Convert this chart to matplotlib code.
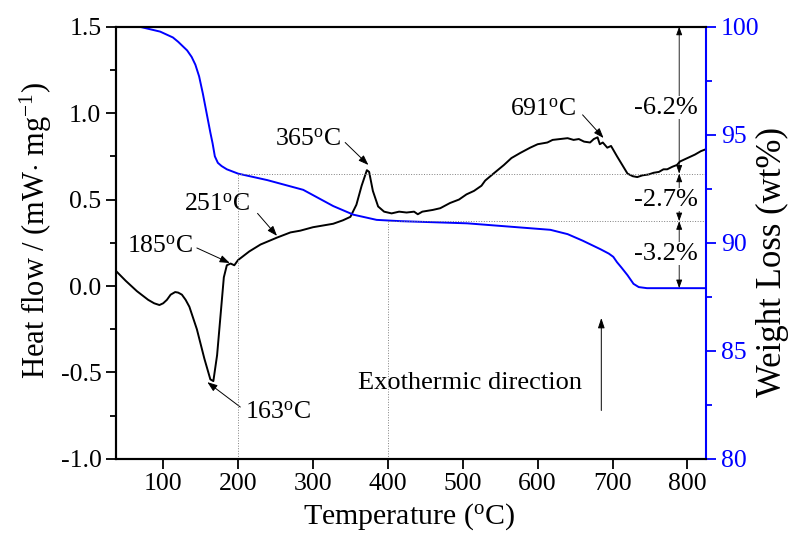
import matplotlib
matplotlib.use('Agg')
import matplotlib.pyplot as plt
from matplotlib.ticker import MultipleLocator

plt.rcParams['font.family'] = ['Liberation Serif', 'DejaVu Serif']
plt.rcParams['mathtext.fontset'] = 'custom'
plt.rcParams['mathtext.rm'] = 'Liberation Serif'
plt.rcParams['mathtext.it'] = 'Liberation Serif:italic'

# DSC heat flow (mW/mg)
dsc_t = [37, 50, 65, 80, 88, 95, 100, 105, 110, 116, 120, 125, 130, 135, 145, 155, 163,
         167, 172, 177, 181, 185, 190, 195, 200, 215, 230, 252, 270, 283, 300, 327, 340,
         350, 358, 365, 372, 375, 380, 387, 395, 405, 415, 425, 435, 440, 446, 460, 470,
         483, 495, 505, 510, 515, 525, 530, 541, 555, 565, 577, 590, 600, 613, 620, 630,
         640, 648, 655, 662, 670, 675, 680, 683, 687, 693, 698, 706, 713, 720, 727, 733,
         740, 748, 755, 762, 768, 773, 780, 786, 790, 800, 810, 818, 824]
dsc_v = [0.087, 0.03, -0.03, -0.08, -0.10, -0.11, -0.10, -0.08, -0.05, -0.035, -0.038,
         -0.05, -0.08, -0.12, -0.25, -0.42, -0.54, -0.55, -0.40, -0.15, 0.05, 0.12, 0.13,
         0.12, 0.15, 0.20, 0.24, 0.28, 0.31, 0.32, 0.34, 0.36, 0.38, 0.40, 0.47, 0.58,
         0.67, 0.66, 0.55, 0.46, 0.43, 0.42, 0.43, 0.425, 0.43, 0.415, 0.43, 0.44, 0.45,
         0.48, 0.50, 0.53, 0.54, 0.55, 0.58, 0.61, 0.65, 0.70, 0.74, 0.77, 0.80, 0.82,
         0.83, 0.845, 0.85, 0.855, 0.845, 0.85, 0.835, 0.83, 0.85, 0.86, 0.82, 0.83,
         0.80, 0.81, 0.75, 0.70, 0.65, 0.635, 0.63, 0.64, 0.645, 0.655, 0.66, 0.675,
         0.675, 0.69, 0.70, 0.72, 0.74, 0.76, 0.78, 0.79]

# TG weight (wt%)
tg_t = [37, 50, 68, 96, 113, 120, 132, 138, 143, 148, 153, 158, 163, 166, 169, 171, 173,
        178, 185, 200, 239, 287, 327, 354, 385, 417, 506, 617, 640, 660, 684, 695, 701,
        706, 712, 720, 724, 728, 735, 746, 824]
tg_v = [100.4, 100.25, 100.0, 99.77, 99.5, 99.3, 98.9, 98.6, 98.24, 97.7, 96.9, 96.0,
        95.1, 94.6, 94.0, 93.85, 93.7, 93.55, 93.4, 93.2, 92.9, 92.45, 91.7, 91.3, 91.06,
        91.0, 90.9, 90.6, 90.4, 90.1, 89.7, 89.5, 89.35, 89.1, 88.85, 88.5, 88.3, 88.1,
        87.95, 87.9, 87.9]

# guide levels
guide_t = [200, 400]
guide_w = [93.2, 91.0]
loss_levels = [100.0, 93.2, 91.0, 87.9]
loss_labels = ['-6.2%', '-2.7%', '-3.2%']
loss_label_y = [96.25, 92.0, 89.5]

fig = plt.figure(figsize=(7.89, 5.33), dpi=100)
ax = fig.add_axes([0.147, 0.139, 0.748, 0.811])
ax2 = ax.twinx()

ax.plot(dsc_t, dsc_v, color='black', lw=1.4)
ax2.plot(tg_t, tg_v, color='blue', lw=1.4)

ax.set_xlim(37, 825)
ax.set_ylim(-1.0, 1.5)
ax2.set_ylim(80, 100)

# dotted guides
for t, w in zip(guide_t, guide_w):
    ax2.plot([t, t], [80, w], color='grey', lw=0.7, ls=':')
    ax2.plot([t, 825], [w, w], color='grey', lw=0.7, ls=':')

# weight-loss arrows
for lo, hi in zip(loss_levels[1:], loss_levels[:-1]):
    ax2.annotate('', xy=(789, hi), xytext=(789, lo),
                 arrowprops=dict(arrowstyle='<|-|>,head_length=0.5,head_width=0.18',
                                 color='black', lw=0.6, shrinkA=0, shrinkB=0))
for lab, y in zip(loss_labels, loss_label_y):
    ax2.text(771, y, lab, fontsize=19, ha='center', va='center',
             bbox=dict(facecolor='white', edgecolor='none', pad=0.3))

arrow = dict(arrowstyle='-|>,head_length=0.6,head_width=0.22', color='black', lw=0.7,
             shrinkA=0, shrinkB=0)
ann = [('365$^{\\mathrm{o}}$C', (294, 0.845), (343, 0.83), (374, 0.70)),
       ('251$^{\\mathrm{o}}$C', (172, 0.47), (226, 0.42), (252, 0.29)),
       ('185$^{\\mathrm{o}}$C', (96, 0.226), (145, 0.22), (189, 0.133)),
       ('163$^{\\mathrm{o}}$C', (254, -0.735), (203, -0.70), (159, -0.556)),
       ('691$^{\\mathrm{o}}$C', (607, 1.02), (660, 0.99), (688, 0.856))]
for lab, pos, tail, head in ann:
    ax.text(pos[0], pos[1], lab, fontsize=18.5, ha='center', va='center')
    ax.annotate('', xy=head, xytext=tail, arrowprops=arrow)

ax.text(510, -0.56, 'Exothermic direction', fontsize=19, ha='center', va='center')
ax.annotate('', xy=(685, -0.185), xytext=(685, -0.72),
            arrowprops=dict(arrowstyle='-|>,head_length=0.6,head_width=0.2',
                            color='black', lw=0.7, shrinkA=0, shrinkB=0))

ax.xaxis.set_major_locator(MultipleLocator(100))
ax.yaxis.set_minor_locator(MultipleLocator(0.25))
ax2.yaxis.set_major_locator(MultipleLocator(5))
ax2.yaxis.set_minor_locator(MultipleLocator(2.5))
ax.set_yticks([1.5, 1.0, 0.5, 0.0, -0.5, -1.0])
ax.set_yticklabels(['1.5', '1.0', '0.5', '0.0', '-0.5', '-1.0'])

ax.tick_params(axis='both', which='major', direction='out', length=7, width=1.3,
               labelsize=18.5)
ax.tick_params(axis='y', which='minor', direction='out', length=4, width=1.3)
ax2.tick_params(axis='y', which='major', direction='out', length=7, width=1.3,
                labelsize=18.5, colors='blue')
ax2.tick_params(axis='y', which='minor', direction='out', length=4, width=1.3,
                colors='blue')

for s in ['left', 'bottom', 'top']:
    ax.spines[s].set_linewidth(1.5)
    ax2.spines[s].set_linewidth(1.5)
ax2.spines['right'].set_color('blue')
ax2.spines['right'].set_linewidth(1.5)
ax.spines['right'].set_visible(False)

ax.set_xlabel('Temperature ($^{\\mathrm{o}}$C)', fontsize=21.5, va='center')
ax.xaxis.set_label_coords(0.497, -0.134)
ax.set_ylabel('Heat flow / (mW$\\cdot$ mg$^{-1}$)', fontsize=22, va='center')
ax.yaxis.set_label_coords(-0.136, 0.528)
ax2.set_ylabel('Weight Loss (wt%)', fontsize=25, va='center', rotation=90)
ax2.yaxis.set_label_coords(1.112, 0.456)

fig.savefig('out.png', dpi=100)
